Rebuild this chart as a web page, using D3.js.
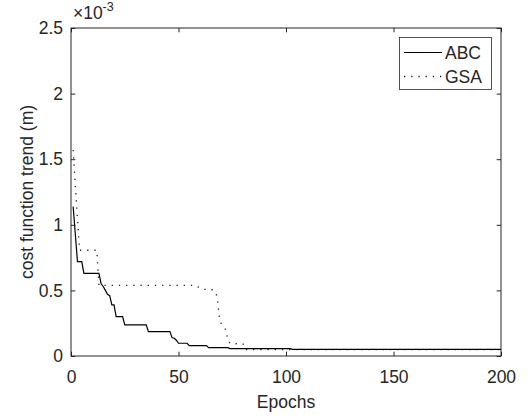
<!DOCTYPE html>
<html>
	<head>
		<script src="https://d3js.org/d3.v7.min.js" charset="utf-8"></script>
		<style>
			body { margin: 0; background: #fff; }
			svg text { font-family: "Liberation Sans", Arial, sans-serif; fill: #262626; }
		</style>
	</head>

	<body>
		<svg id="chart" width="528" height="417"></svg>

		<script>
            // values are in units of 1e-3 m (axis shows x10^-3 multiplier)
            const abcEpochs = [1, 3, 5, 6, 13, 14, 15, 16, 17, 18, 19, 20, 21, 24, 25, 35, 36, 46, 47, 48, 49, 50, 54, 55, 63, 64, 73, 74, 102, 103, 200];
            const abcValues = [1.14, 0.72, 0.72, 0.63, 0.63, 0.55, 0.53, 0.50, 0.47, 0.46, 0.39, 0.39, 0.30, 0.30, 0.237, 0.237, 0.186, 0.186, 0.14, 0.135, 0.12, 0.097, 0.097, 0.079, 0.079, 0.064, 0.064, 0.056, 0.056, 0.051, 0.051];

            const gsaEpochs = [1, 2, 3, 4, 12, 13, 58, 60, 63, 66, 67, 68, 69, 70, 71, 72, 73, 74, 80, 81, 200];
            const gsaValues = [1.57, 1.30, 1.05, 0.806, 0.806, 0.538, 0.538, 0.517, 0.505, 0.505, 0.49, 0.45, 0.30, 0.24, 0.22, 0.20, 0.12, 0.095, 0.092, 0.048, 0.048];

            const xTicks = [0, 50, 100, 150, 200];
            const yTicks = [0, 0.5, 1, 1.5, 2, 2.5];
            const seriesNames = ["ABC", "GSA"];

            const svg = d3.select("#chart");
            const plotLeft = 71, plotTop = 28, plotRight = 501, plotBottom = 356;
            const fontSize = "17.5px";
            const axisColor = "#262626";

            var xScaler = d3.scaleLinear().domain([0, 200]).range([plotLeft, plotRight]);
            var yScaler = d3.scaleLinear().domain([0, 2.5]).range([plotBottom, plotTop]);

            // axes (ticks point inward, like matlab)
            var xAxis = d3.axisBottom(xScaler).tickValues(xTicks).tickSizeInner(-4.3).tickSizeOuter(0).tickPadding(14.5).tickFormat(d3.format("d"));
            var xAxisTop = d3.axisTop(xScaler).tickValues(xTicks).tickSizeInner(-4.3).tickSizeOuter(0).tickFormat("");
            var yAxis = d3.axisLeft(yScaler).tickValues(yTicks).tickSizeInner(-4.3).tickSizeOuter(0).tickPadding(8).tickFormat(d => d);
            var yAxisRight = d3.axisRight(yScaler).tickValues(yTicks).tickSizeInner(-4.3).tickSizeOuter(0).tickFormat("");

            function styleAxis(g) {
                g.select(".domain").remove();
                g.selectAll("line").attr("stroke", axisColor).attr("stroke-width", 1);
                g.selectAll("text").style("font-size", fontSize).attr("fill", axisColor);
            }

            svg.append("g").attr("transform", `translate(0, ${plotBottom})`).call(xAxis).call(styleAxis);
            svg.append("g").attr("transform", `translate(0, ${plotTop})`).call(xAxisTop).call(styleAxis);
            svg.append("g").attr("transform", `translate(${plotLeft}, 0)`).call(yAxis).call(styleAxis);
            svg.append("g").attr("transform", `translate(${plotRight}, 0)`).call(yAxisRight).call(styleAxis);

            // data lines
            var line = d3.line()
                .x(d => xScaler(d[0]))
                .y(d => yScaler(d[1]));

            var abcData = abcEpochs.map((e, i) => [e, abcValues[i]]);
            var gsaData = gsaEpochs.map((e, i) => [e, gsaValues[i]]);

            svg.append("path")
                .datum(gsaData)
                .attr("d", line)
                .attr("fill", "none")
                .attr("stroke", "#222")
                .attr("stroke-width", 1.3)
                .attr("stroke-dasharray", "1.3 5.9");

            svg.append("path")
                .datum(abcData)
                .attr("d", line)
                .attr("fill", "none")
                .attr("stroke", "#000")
                .attr("stroke-width", 1.2);

            // box
            svg.append("rect")
                .attr("x", plotLeft).attr("y", plotTop)
                .attr("width", plotRight - plotLeft).attr("height", plotBottom - plotTop)
                .attr("fill", "none")
                .attr("stroke", axisColor)
                .attr("stroke-width", 1);

            // exponent label
            svg.append("text").attr("x", 73).attr("y", 18.5).style("font-size", fontSize).text("\u00d710");
            svg.append("text").attr("x", 102.5).attr("y", 11).style("font-size", "12.5px").text("-3");

            // axis titles
            svg.append("text")
                .attr("x", (plotLeft + plotRight) / 2)
                .attr("y", 407.5)
                .style("text-anchor", "middle")
                .style("font-size", fontSize)
                .text("Epochs");

            svg.append("text")
                .attr("transform", "rotate(-90)")
                .attr("x", -(plotTop + plotBottom) / 2)
                .attr("y", 33)
                .style("text-anchor", "middle")
                .style("font-size", fontSize)
                .text("cost function trend (m)");

            // legend
            var legend = svg.append("g");
            legend.append("rect")
                .attr("x", 399.5).attr("y", 37.5)
                .attr("width", 92).attr("height", 52)
                .attr("fill", "#fff")
                .attr("stroke", axisColor)
                .attr("stroke-width", 0.8);
            var rows = legend.selectAll("g.row").data(seriesNames).enter().append("g")
                .attr("class", "row")
                .attr("transform", (d, i) => `translate(0, ${52.5 + i * 24})`);
            rows.append("line")
                .attr("x1", 404).attr("x2", 442)
                .attr("y1", 0).attr("y2", 0)
                .attr("stroke", (d, i) => i == 0 ? "#000" : "#222")
                .attr("stroke-width", (d, i) => i == 0 ? 1.2 : 1.3)
                .attr("stroke-dasharray", (d, i) => i == 0 ? null : "1.3 5.9");
            rows.append("text")
                .attr("x", 445)
                .attr("y", 6)
                .style("font-size", fontSize)
                .text(d => d);
		</script>
	</body>
</html>
